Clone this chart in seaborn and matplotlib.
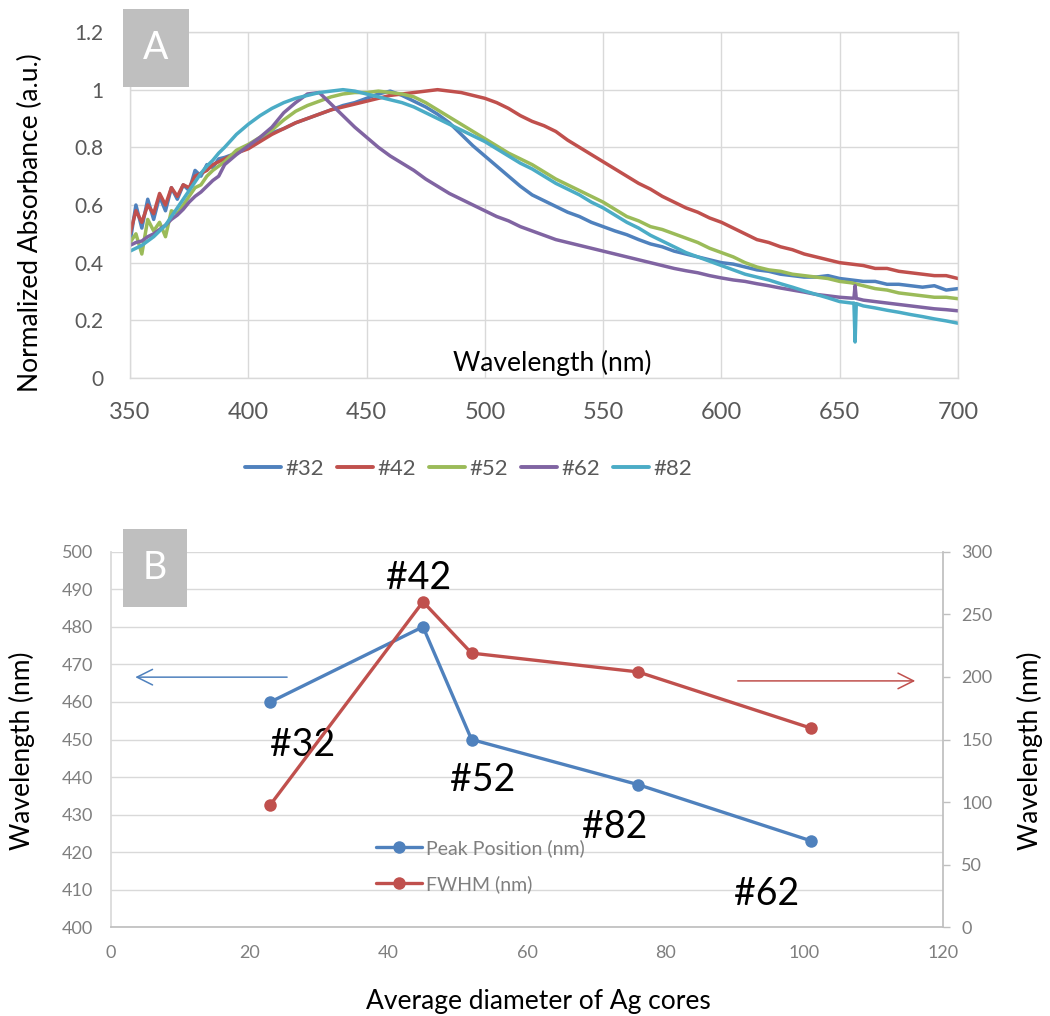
import numpy as np
import pandas as pd
import matplotlib
matplotlib.use("Agg")
import matplotlib.pyplot as plt
import seaborn as sns
from matplotlib.patches import Rectangle
from matplotlib.ticker import FuncFormatter, MultipleLocator
from matplotlib.lines import Line2D

sns.set_theme(style="white")
plt.rcParams['font.family'] = ['Lato', 'DejaVu Sans']

# ---------------- Panel A data (normalized absorbance spectra) ----------------
wl_fine = [350, 352.5, 355, 357.5, 360, 362.5, 365, 367.5, 370, 372.5, 375,
           377.5, 380, 382.5, 385, 387.5]
wl_coarse = list(range(390, 705, 5))
wavelength = wl_fine + wl_coarse

abs_32 = [0.47, 0.60, 0.52, 0.62, 0.55, 0.63, 0.58, 0.66, 0.62, 0.67, 0.65, 0.72, 0.70, 0.74, 0.73, 0.76,
          0.765, 0.78, 0.80, 0.825, 0.85, 0.865, 0.885, 0.90, 0.915, 0.93, 0.945, 0.955,
          0.97, 0.985, 0.995, 0.98, 0.96, 0.94, 0.915, 0.885, 0.845, 0.805, 0.77, 0.735,
          0.70, 0.665, 0.635, 0.615, 0.595, 0.575, 0.56, 0.54, 0.525, 0.51, 0.497, 0.48,
          0.465, 0.455, 0.44, 0.43, 0.42, 0.41, 0.40, 0.395, 0.385, 0.375, 0.37, 0.36,
          0.355, 0.35, 0.35, 0.355, 0.345, 0.34, 0.335, 0.335, 0.325, 0.325, 0.32, 0.315,
          0.32, 0.305, 0.31]
abs_42 = [0.50, 0.58, 0.54, 0.60, 0.57, 0.64, 0.60, 0.66, 0.63, 0.67, 0.66, 0.70, 0.71, 0.72, 0.74, 0.75,
          0.76, 0.78, 0.795, 0.82, 0.845, 0.865, 0.885, 0.90, 0.915, 0.93, 0.94, 0.95,
          0.96, 0.97, 0.98, 0.985, 0.99, 0.995, 1.0, 0.995, 0.99, 0.98, 0.97, 0.955,
          0.935, 0.91, 0.89, 0.875, 0.855, 0.825, 0.80, 0.775, 0.75, 0.725, 0.70, 0.675,
          0.655, 0.63, 0.61, 0.59, 0.575, 0.555, 0.54, 0.52, 0.50, 0.48, 0.47, 0.455,
          0.445, 0.43, 0.42, 0.41, 0.40, 0.395, 0.39, 0.38, 0.38, 0.37, 0.365, 0.36,
          0.355, 0.355, 0.345]
abs_52 = [0.47, 0.50, 0.43, 0.55, 0.51, 0.54, 0.49, 0.58, 0.57, 0.60, 0.63, 0.66, 0.67, 0.70, 0.72, 0.735,
          0.75, 0.79, 0.81, 0.835, 0.86, 0.895, 0.925, 0.945, 0.96, 0.975, 0.985, 0.99,
          0.99, 0.995, 0.99, 0.985, 0.975, 0.955, 0.93, 0.905, 0.88, 0.855, 0.83, 0.805,
          0.78, 0.76, 0.74, 0.715, 0.69, 0.67, 0.65, 0.63, 0.61, 0.585, 0.56, 0.545,
          0.525, 0.515, 0.50, 0.485, 0.47, 0.45, 0.435, 0.42, 0.40, 0.385, 0.375, 0.37,
          0.36, 0.355, 0.35, 0.345, 0.335, 0.33, 0.32, 0.31, 0.305, 0.295, 0.29, 0.285,
          0.28, 0.28, 0.275]
abs_62 = [0.46, 0.47, 0.475, 0.49, 0.50, 0.515, 0.53, 0.55, 0.565, 0.585, 0.61, 0.63, 0.645, 0.665, 0.685, 0.70,
          0.74, 0.775, 0.805, 0.835, 0.87, 0.92, 0.955, 0.985, 0.99, 0.95, 0.91, 0.87,
          0.835, 0.80, 0.77, 0.745, 0.72, 0.69, 0.665, 0.64, 0.62, 0.60, 0.58, 0.56,
          0.545, 0.525, 0.51, 0.495, 0.48, 0.47, 0.46, 0.45, 0.44, 0.43, 0.42, 0.41,
          0.40, 0.39, 0.38, 0.372, 0.365, 0.355, 0.347, 0.34, 0.335, 0.327, 0.32, 0.312,
          0.305, 0.298, 0.29, 0.285, 0.28, 0.277, 0.27, 0.265, 0.26, 0.255, 0.25, 0.245,
          0.24, 0.237, 0.233]
abs_82 = [0.44, 0.45, 0.46, 0.475, 0.49, 0.51, 0.53, 0.56, 0.59, 0.62, 0.65, 0.68, 0.71, 0.735, 0.755, 0.78,
          0.80, 0.845, 0.88, 0.91, 0.935, 0.955, 0.97, 0.98, 0.99, 0.995, 1.0, 0.995,
          0.985, 0.975, 0.965, 0.955, 0.94, 0.92, 0.90, 0.88, 0.86, 0.84, 0.82, 0.795,
          0.77, 0.745, 0.725, 0.70, 0.675, 0.655, 0.635, 0.61, 0.59, 0.565, 0.54, 0.52,
          0.495, 0.475, 0.455, 0.435, 0.42, 0.405, 0.39, 0.375, 0.36, 0.35, 0.34, 0.327,
          0.315, 0.302, 0.29, 0.278, 0.265, 0.26, 0.25, 0.243, 0.235, 0.228, 0.22, 0.213,
          0.205, 0.198, 0.19]

# lamp-change artefact near 656 nm
spike_wl = [656.0, 656.5, 657.0]
spike_62 = [0.277, 0.32, 0.276]
spike_82 = [0.26, 0.125, 0.258]

samples = ["#32", "#42", "#52", "#62", "#82"]
colors = ["#4F81BD", "#C0504D", "#9BBB59", "#8064A2", "#4BACC6"]

# ---------------- Panel B data ----------------
diameter = [23, 45, 52, 76, 101]
peak_position = [460, 480, 450, 438, 423]
fwhm = [98, 260, 219, 204, 159]
point_names = ["#32", "#42", "#52", "#82", "#62"]

# ---------------- build table ----------------
series = {"#32": abs_32, "#42": abs_42, "#52": abs_52, "#62": abs_62, "#82": abs_82}
spikes = {"#62": spike_62, "#82": spike_82}
rows = []
for s in samples:
    assert len(series[s]) == len(wavelength), (s, len(series[s]))
    for w, v in zip(wavelength, series[s]):
        rows.append((w, v, s))
    if s in spikes:
        for w, v in zip(spike_wl, spikes[s]):
            rows.append((w, v, s))
dfA = pd.DataFrame(rows, columns=["wl", "absorbance", "sample"])

W, H = 1050, 1016
fig = plt.figure(figsize=(W / 100, H / 100), dpi=100)

def fx(px):
    return px / W

def fy(py):
    return 1 - py / H

# ---------------- Panel A ----------------
axA = fig.add_axes([fx(130), fy(378), fx(958) - fx(130), fy(32) - fy(378)])
sns.lineplot(data=dfA, x="wl", y="absorbance", hue="sample", hue_order=samples,
             palette=dict(zip(samples, colors)), linewidth=2.5, errorbar=None,
             sort=True, ax=axA)
axA.set_xlim(350, 700)
axA.set_ylim(0, 1.2)
axA.xaxis.set_major_locator(MultipleLocator(50))
axA.yaxis.set_major_locator(MultipleLocator(0.2))
axA.yaxis.set_major_formatter(FuncFormatter(lambda v, p: f"{v:g}"))
axA.grid(True, color="#D9D9D9", linewidth=1)
axA.set_axisbelow(True)
for sp in axA.spines.values():
    sp.set_color("#D9D9D9")
    sp.set_linewidth(1)
axA.tick_params(axis="y", length=0, pad=19, labelsize=15, labelcolor="#595959")
axA.tick_params(axis="x", length=0, pad=17, labelsize=17, labelcolor="#595959")
axA.set_xlabel("")
axA.set_ylabel("")
handles, labels = axA.get_legend_handles_labels()
for h in handles:
    h.set_linewidth(2.8)
axA.legend(handles, labels, loc="center", bbox_to_anchor=(fx(468.5), fy(469)),
           bbox_transform=fig.transFigure, ncol=5, frameon=False, fontsize=16,
           handlelength=1.6, handletextpad=0.2, columnspacing=0.6,
           labelcolor="#595959")
fig.text(fx(552), fy(363), "Wavelength (nm)", ha="center", va="center",
         fontsize=19, color="black")
fig.text(fx(30), fy(223), "Normalized Absorbance (a.u.)", ha="center",
         va="center", rotation=90, fontsize=19, color="black")

# ---------------- Panel B ----------------
axB = fig.add_axes([fx(111), fy(927.3), fx(943) - fx(111), fy(551.7) - fy(927.3)])
axB2 = axB.twinx()
dfB = pd.DataFrame({"diameter": diameter, "peak": peak_position, "fwhm": fwhm})
sns.lineplot(data=dfB, x="diameter", y="peak", color=colors[0], marker="o",
             markersize=9, markeredgewidth=0, linewidth=2.4, ax=axB,
             label="Peak Position (nm)", legend=False)
sns.lineplot(data=dfB, x="diameter", y="fwhm", color=colors[1], marker="o",
             markersize=9, markeredgewidth=0, linewidth=2.4, ax=axB2,
             label="FWHM (nm)", legend=False)
axB.set_xlim(0, 120)
axB.set_ylim(400, 500)
axB2.set_ylim(0, 300)
axB.xaxis.set_major_locator(MultipleLocator(20))
axB.yaxis.set_major_locator(MultipleLocator(10))
axB2.yaxis.set_major_locator(MultipleLocator(50))
axB.grid(True, axis="y", color="#D9D9D9", linewidth=1)
axB.grid(False, axis="x")
axB2.grid(False)
axB.set_axisbelow(True)
axB.spines["top"].set_visible(False)
axB.spines["right"].set_visible(False)
axB.spines["left"].set_color("#D9D9D9")
axB.spines["bottom"].set_color("#BFBFBF")
for k in ["top", "left", "bottom"]:
    axB2.spines[k].set_visible(False)
axB2.spines["right"].set_color("#BFBFBF")
axB.tick_params(axis="y", length=0, pad=13, labelsize=13, labelcolor="#7F7F7F")
axB.tick_params(axis="x", length=0, pad=13, labelsize=13, labelcolor="#7F7F7F")
axB2.tick_params(axis="y", length=5, width=1, color="#BFBFBF", direction="out",
                 pad=8, labelsize=13, labelcolor="#7F7F7F")
axB.set_xlabel("")
axB.set_ylabel("")
axB2.set_ylabel("")

# point names
annot_xy = {"#42": (44.4, 492.9), "#32": (27.6, 448.6), "#52": (53.6, 439.2),
            "#82": (72.6, 426.7), "#62": (94.5, 408.9)}
for name in point_names:
    x, y = annot_xy[name]
    axB.text(x, y, name, ha="center", va="center", fontsize=27, color="black")

# axis-direction arrows
axB.annotate("", xy=(3.5, 466.6), xytext=(25.4, 466.6),
             arrowprops=dict(arrowstyle="->", color=colors[0], lw=1.1,
                             mutation_scale=28, shrinkA=0, shrinkB=0))
axB.annotate("", xy=(116, 465.6), xytext=(90.4, 465.6),
             arrowprops=dict(arrowstyle="->", color=colors[1], lw=1.1,
                             mutation_scale=28, shrinkA=0, shrinkB=0))

legend_handles = [
    Line2D([], [], color=colors[0], lw=2.4, marker="o", markersize=9, markeredgewidth=0),
    Line2D([], [], color=colors[1], lw=2.4, marker="o", markersize=9, markeredgewidth=0),
]
axB2.legend(legend_handles, ["Peak Position (nm)", "FWHM (nm)"], loc="center left",
            bbox_to_anchor=(fx(366), fy(866)), bbox_transform=fig.transFigure,
            frameon=False, fontsize=14, handlelength=2.4, handletextpad=0.2,
            labelspacing=0.95, borderpad=0, labelcolor="#7F7F7F")

fig.text(fx(538), fy(1002), "Average diameter of Ag cores", ha="center",
         va="center", fontsize=19, color="black")
fig.text(fx(22), fy(751), "Wavelength (nm)", ha="center", va="center",
         rotation=90, fontsize=19, color="black")
fig.text(fx(1030), fy(751), "Wavelength (nm)", ha="center", va="center",
         rotation=90, fontsize=19, color="black")

# panel letters
for (x0, y0, x1, y1, letter) in [(123, 9, 189, 87, "A"), (123, 529, 187, 607, "B")]:
    fig.add_artist(Rectangle((fx(x0), fy(y1)), fx(x1) - fx(x0), fy(y0) - fy(y1),
                             transform=fig.transFigure, facecolor="#BFBFBF",
                             edgecolor="none", zorder=5))
    fig.text(fx((x0 + x1) / 2), fy((y0 + y1) / 2), letter, ha="center",
             va="center", fontsize=27, color="white", zorder=6)

fig.savefig("out.png", dpi=100)
